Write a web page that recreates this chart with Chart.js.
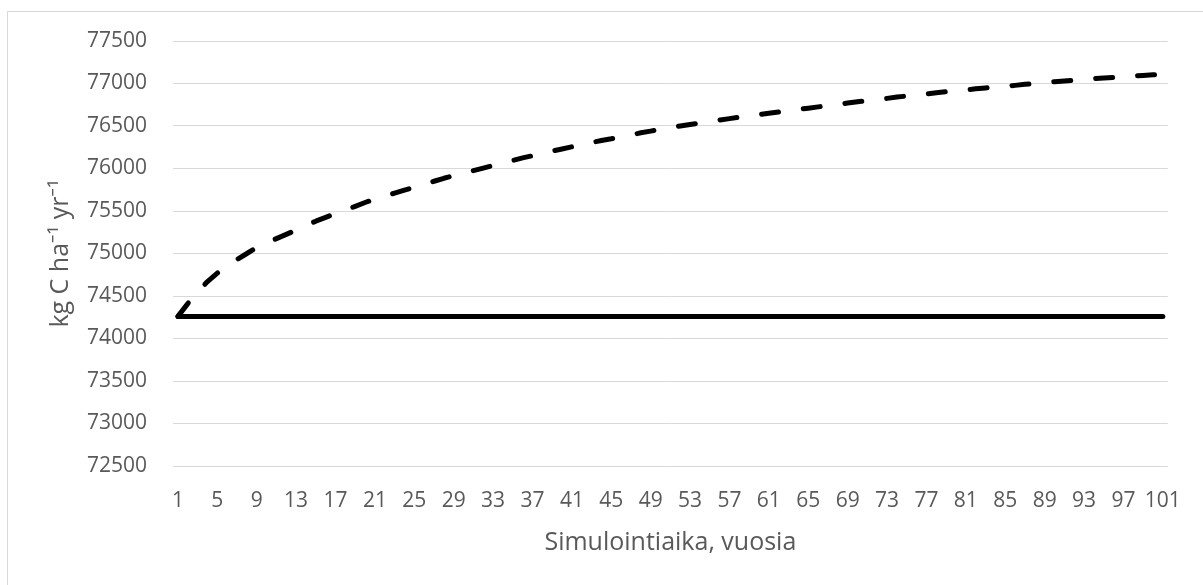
<!DOCTYPE html>
<html>
<head>
<meta charset="utf-8">
<script src="https://cdn.jsdelivr.net/npm/chart.js@4"></script>
<style>
  html, body { margin: 0; padding: 0; background: #ffffff; overflow: hidden; }
  #frame { position: absolute; left: 7px; top: 11px; width: 1300px; height: 700px; border: 1px solid #d9d9d9; box-sizing: border-box; }
  #wrap { position: absolute; left: 0; top: 0; width: 1203px; height: 585px; }
</style>
</head>
<body>
<div id="frame"></div>
<div id="wrap"><canvas id="c" width="1203" height="585"></canvas></div>
<script>
const years = Array.from({length: 101}, (_, i) => String(i + 1));

const baseline = [
  74260, 74260, 74260, 74260, 74260, 74260, 74260, 74260, 74260, 74260,
  74260, 74260, 74260, 74260, 74260, 74260, 74260, 74260, 74260, 74260,
  74260, 74260, 74260, 74260, 74260, 74260, 74260, 74260, 74260, 74260,
  74260, 74260, 74260, 74260, 74260, 74260, 74260, 74260, 74260, 74260,
  74260, 74260, 74260, 74260, 74260, 74260, 74260, 74260, 74260, 74260,
  74260, 74260, 74260, 74260, 74260, 74260, 74260, 74260, 74260, 74260,
  74260, 74260, 74260, 74260, 74260, 74260, 74260, 74260, 74260, 74260,
  74260, 74260, 74260, 74260, 74260, 74260, 74260, 74260, 74260, 74260,
  74260, 74260, 74260, 74260, 74260, 74260, 74260, 74260, 74260, 74260,
  74260, 74260, 74260, 74260, 74260, 74260, 74260, 74260, 74260, 74260,
  74260
];

const scenario = [
  74260, 74410, 74550, 74670, 74770, 74850, 74930, 75000, 75070, 75125,
  75175, 75225, 75275, 75330, 75380, 75425, 75470, 75510, 75555, 75600,
  75640, 75675, 75710, 75745, 75780, 75815, 75850, 75885, 75915, 75945,
  75975, 76005, 76035, 76065, 76095, 76125, 76150, 76180, 76205, 76230,
  76255, 76280, 76305, 76330, 76350, 76375, 76395, 76420, 76440, 76460,
  76480, 76500, 76518, 76536, 76553, 76570, 76587, 76603, 76620, 76635,
  76650, 76665, 76680, 76695, 76710, 76725, 76740, 76755, 76770, 76785,
  76800, 76812, 76825, 76840, 76853, 76865, 76878, 76890, 76903, 76915,
  76925, 76937, 76948, 76958, 76968, 76978, 76990, 77000, 77010, 77020,
  77030, 77040, 77048, 77056, 77064, 77072, 77080, 77088, 77095, 77103,
  77110
];

const yMin = 72500, yMax = 77500, yStep = 500;
const xTitle = 'Simulointiaika, vuosia';
const yTitle = 'kg C ha\u207B\u00B9 yr\u207B\u00B9';

Chart.defaults.font.family = "'Open Sans', 'Noto Sans', sans-serif";
Chart.defaults.font.size = 21;
Chart.defaults.color = '#595959';

new Chart(document.getElementById('c'), {
  type: 'line',
  data: {
    labels: years,
    datasets: [
      {
        data: scenario,
        borderColor: '#000000',
        borderWidth: 5,
        borderDash: [17, 25],
        borderCapStyle: 'round',
        borderJoinStyle: 'round',
        pointRadius: 0,
        fill: false,
        tension: 0
      },
      {
        data: baseline,
        borderColor: '#000000',
        borderWidth: 5,
        borderCapStyle: 'round',
        borderJoinStyle: 'round',
        pointRadius: 0,
        fill: false,
        tension: 0
      }
    ]
  },
  options: {
    responsive: false,
    animation: false,
    events: [],
    layout: { padding: { left: 0, right: 30, top: 41, bottom: 0 } },
    plugins: { legend: { display: false }, tooltip: { enabled: false } },
    scales: {
      x: {
        type: 'category',
        offset: true,
        grid: { display: false, drawTicks: false },
        border: { display: false },
        ticks: {
          autoSkip: false,
          maxRotation: 0,
          minRotation: 0,
          padding: 22,
          font: { size: 21 },
          callback: function(value, index) { return index % 4 === 0 ? this.getLabelForValue(value) : ''; }
        },
        title: { display: true, text: xTitle, font: { size: 25 }, padding: { top: 0, bottom: 27 } },
        afterFit: function(scale) { scale.height = 119; }
      },
      y: {
        min: yMin,
        max: yMax,
        grid: { color: '#d9d9d9', lineWidth: 1, drawTicks: false },
        border: { display: false },
        ticks: { stepSize: yStep, padding: 26, font: { size: 21 }, callback: function(value) { return String(value); } },
        title: { display: true, text: yTitle, font: { size: 25 }, padding: { top: 46, bottom: 0 } },
        afterFit: function(scale) { scale.width = 173; }
      }
    }
  }
});
</script>
</body>
</html>
